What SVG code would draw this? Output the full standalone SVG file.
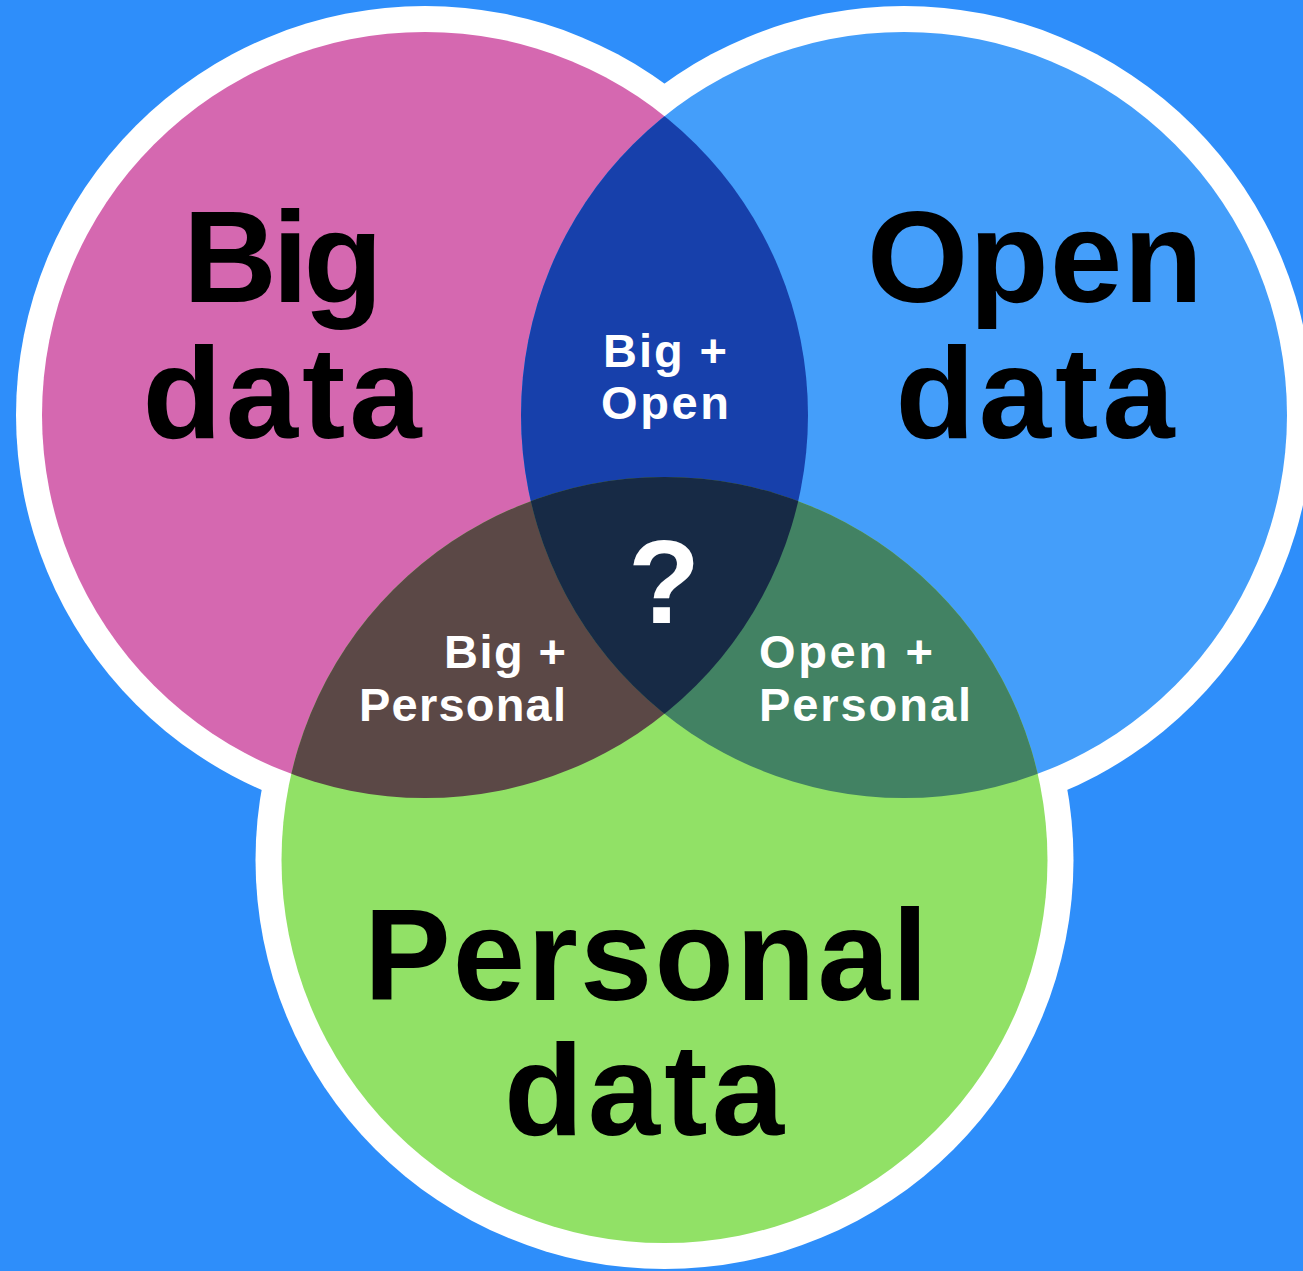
<svg xmlns="http://www.w3.org/2000/svg" width="1303" height="1271" viewBox="0 0 1303 1271">
<style>
.big{font-family:"Liberation Sans",Arial,sans-serif;font-weight:bold;font-size:130px;fill:#000;text-anchor:middle}
.sm{font-family:"Liberation Sans",Arial,sans-serif;font-weight:bold;font-size:47px;fill:#fff}
.q{font-family:"Liberation Sans",Arial,sans-serif;font-weight:bold;font-size:118px;fill:#fff;text-anchor:middle}
</style>
<defs>
<clipPath id="cpPink"><circle cx="425" cy="415" r="383"/></clipPath>
<clipPath id="cpBlue"><circle cx="904" cy="415" r="383"/></clipPath>
<clipPath id="cpGreen"><circle cx="664.5" cy="860" r="383"/></clipPath>
</defs>
<rect width="1303" height="1271" fill="#2E8EFA"/>
<g id="outline" fill="#fff">
<circle cx="425" cy="415" r="409"/>
<circle cx="904" cy="415" r="409"/>
<circle cx="664.5" cy="860" r="409"/>
</g>
<g id="big-data">
<circle cx="425" cy="415" r="383" fill="#D568B0"/>
<text class="big" x="283" y="302" textLength="200">Big</text>
<text class="big" x="282" y="438" textLength="279">data</text>
</g>
<g id="open-data">
<circle cx="904" cy="415" r="383" fill="#449EFA"/>
<text class="big" x="1035" y="302" textLength="336">Open</text>
<text class="big" x="1035" y="438" textLength="279">data</text>
</g>
<g id="personal-data">
<circle cx="664.5" cy="860" r="383" fill="#91E166"/>
<text class="big" x="646" y="1000" textLength="564">Personal</text>
<text class="big" x="644" y="1135" textLength="280">data</text>
</g>
<g id="big-open">
<circle cx="904" cy="415" r="383" fill="#1740AB" clip-path="url(#cpPink)"/>
<text class="sm" x="665" y="367" text-anchor="middle" textLength="124">Big +</text>
<text class="sm" x="665" y="419" text-anchor="middle" textLength="128">Open</text>
</g>
<g id="big-personal">
<circle cx="664.5" cy="860" r="383" fill="#5B4846" clip-path="url(#cpPink)"/>
<text class="sm" x="566" y="668" text-anchor="end" textLength="122">Big +</text>
<text class="sm" x="566" y="721" text-anchor="end" textLength="207">Personal</text>
</g>
<g id="open-personal">
<circle cx="664.5" cy="860" r="383" fill="#428263" clip-path="url(#cpBlue)"/>
<text class="sm" x="759" y="668" textLength="174">Open +</text>
<text class="sm" x="759" y="721" textLength="212">Personal</text>
</g>
<g id="center">
<g clip-path="url(#cpPink)"><circle cx="904" cy="415" r="383" fill="#172A45" clip-path="url(#cpGreen)"/></g>
<text class="q" x="664" y="623">?</text>
</g>
<g id="connectors"/>
</svg>
